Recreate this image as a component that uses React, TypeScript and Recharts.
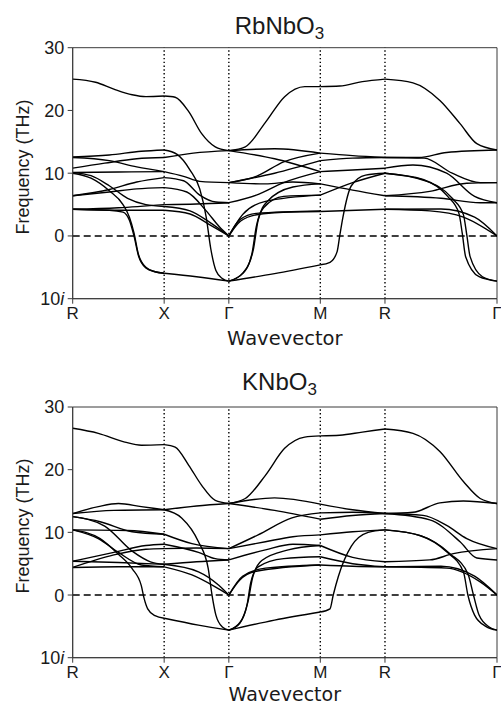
import React from 'react';
import { LineChart, Line, XAxis, YAxis, ReferenceLine, ReferenceArea } from 'recharts';

// k-path (cumulative distance) and labels
const KDIST = [0, 0.7071, 1.2071, 1.9142, 2.4142, 3.2802];
const KLABELS = ['R', 'X', 'Γ', 'M', 'R', 'Γ'];
const FREQ_TICKS = [-10, 0, 10, 20, 30];

// RbNbO3 bands, per segment: curves of [fraction along segment, THz]
const rbRX = [
  [[0, 25.0], [0.25, 24.5], [0.45, 23.4], [0.65, 22.5], [0.8, 22.2], [1, 22.3]],
  [[0, 12.6], [0.4, 12.9], [0.75, 13.5], [1, 13.7]],
  [[0, 12.5], [0.4, 12.0], [0.7, 11.0], [1, 10.25]],
  [[0, 10.8], [0.35, 11.6], [0.7, 12.3], [1, 12.5]],
  [[0, 10.1], [0.5, 10.2], [1, 10.25]],
  [[0, 10.1], [0.2, 9.6], [0.4, 8.0], [0.6, 6.0], [0.8, 5.0], [1, 4.7]],
  [[0, 10.0], [0.2, 9.2], [0.4, 7.2], [0.55, 5.0], [0.62, 3.0], [0.67, 0.5], [0.72, -3], [0.8, -5], [0.9, -5.7], [1, -5.95]],
  [[0, 4.25], [0.4, 4.1], [0.55, 3.8], [0.62, 2.5], [0.67, 0], [0.72, -3.2], [0.8, -5.1], [0.9, -5.7], [1, -5.95]],
  [[0, 6.4], [0.4, 7.4], [0.7, 8.6], [1, 9.3]],
  [[0, 6.4], [0.4, 7.0], [0.7, 7.5], [1, 7.7]],
  [[0, 4.25], [0.5, 4.1], [1, 4.1]],
  [[0, 4.25], [0.5, 4.5], [1, 5.0]],
];
const rbXG = [
  [[0, 22.3], [0.17, 22.1], [0.38, 19.8], [0.58, 16.3], [0.79, 14.2], [1, 13.6]],
  [[0, 13.7], [0.2, 13.0], [0.4, 10.5], [0.55, 7.5], [0.65, 3], [0.72, -2], [0.8, -5.5], [0.9, -6.8], [1, -7.2]],
  [[0, 12.5], [0.45, 13.2], [1, 13.6]],
  [[0, 10.25], [0.3, 9.5], [0.55, 8.7], [1, 8.5]],
  [[0, 9.3], [0.3, 8.8], [0.55, 6.5], [0.8, 5.4], [1, 5.3]],
  [[0, 7.7], [0.35, 7.0], [0.65, 4.0], [0.85, 1.5], [1, 0]],
  [[0, 5.0], [0.5, 5.1], [1, 5.3]],
  [[0, 4.7], [0.4, 4.0], [0.7, 2.2], [1, 0]],
  [[0, 4.1], [0.4, 3.5], [0.7, 1.8], [1, 0]],
  [[0, -5.95], [0.5, -6.5], [1, -7.2]],
];
const rbGM = [
  [[0, 13.6], [0.18, 14.2], [0.4, 18.1], [0.61, 22.2], [0.83, 23.8], [1, 23.8]],
  [[0, 13.6], [0.5, 13.9], [1, 13.2]],
  [[0, 13.6], [0.5, 12.3], [1, 10.25]],
  [[0, 8.5], [0.3, 9.5], [0.6, 11.8], [1, 13.2]],
  [[0, 8.5], [0.5, 10.0], [1, 12.0]],
  [[0, 8.5], [0.4, 8.3], [0.7, 8.6], [1, 8.3]],
  [[0, 5.3], [0.3, 6.5], [0.6, 8.5], [1, 10.25]],
  [[0, 0], [0.1, 2.0], [0.25, 3.2], [0.5, 3.7], [1, 3.9]],
  [[0, 0], [0.12, 2.6], [0.3, 3.6], [1, 4.0]],
  [[0, 0], [0.15, 3.4], [0.4, 5.5], [1, 6.5]],
  [[0, -7.2], [0.15, -6.0], [0.25, -3.0], [0.3, 1.5], [0.38, 4.5], [0.6, 6.3], [1, 6.5]],
  [[0, -7.2], [0.16, -5.8], [0.27, -2.0], [0.32, 2.5], [0.42, 5.5], [0.7, 7.8], [1, 8.3]],
  [[0, -7.2], [0.5, -6.0], [1, -4.6]],
];
const rbMR = [
  [[0, 23.8], [0.3, 23.9], [0.65, 24.6], [1, 25.0]],
  [[0, 13.2], [0.5, 12.8], [1, 12.5]],
  [[0, 12.0], [0.5, 12.4], [1, 12.5]],
  [[0, 10.25], [0.5, 10.5], [1, 10.8]],
  [[0, 8.3], [0.5, 7.3], [1, 6.4]],
  [[0, 6.5], [0.5, 8.5], [1, 10.0]],
  [[0, 3.9], [1, 4.25]],
  [[0, -4.6], [0.15, -4.2], [0.26, -2.5], [0.3, 0], [0.35, 3.0], [0.48, 8.0], [0.7, 9.7], [1, 10.0]],
];
const rbRG = [
  [[0, 25.0], [0.25, 24.4], [0.49, 21.6], [0.67, 17.9], [0.82, 14.7], [1, 13.7]],
  [[0, 12.5], [0.3, 12.5], [0.55, 13.3], [1, 13.7]],
  [[0, 12.5], [0.35, 12.4], [0.6, 10.0], [0.85, 8.5], [1, 8.5]],
  [[0, 10.8], [0.25, 11.3], [0.55, 10.0], [0.8, 6.3], [1, 5.3]],
  [[0, 10.0], [0.34, 9.0], [0.56, 6.3], [0.66, 3.6], [0.69, 0.4], [0.72, -3.3], [0.84, -6.5], [1, -7.2]],
  [[0, 10.0], [0.36, 8.8], [0.6, 6.0], [0.7, 3.4], [0.73, 0.2], [0.76, -3.3], [0.87, -6.5], [1, -7.2]],
  [[0, 6.4], [0.4, 7.1], [0.73, 8.4], [1, 8.5]],
  [[0, 6.4], [0.5, 6.0], [0.85, 5.3], [1, 5.3]],
  [[0, 4.25], [0.4, 4.0], [0.7, 3.0], [1, 0]],
  [[0, 4.25], [0.5, 4.3], [0.8, 3.0], [1, 0]],
];

// KNbO3 bands
const kRX = [
  [[0, 26.6], [0.28, 25.8], [0.57, 24.4], [0.75, 23.9], [1, 24.0]],
  [[0, 13.0], [0.28, 14.1], [0.5, 14.6], [0.75, 14.1], [1, 13.6]],
  [[0, 13.0], [0.45, 13.5], [1, 13.6]],
  [[0, 12.5], [0.3, 11.7], [0.65, 10.1], [1, 9.7]],
  [[0, 10.4], [0.6, 10.3], [1, 9.7]],
  [[0, 12.5], [0.35, 11.0], [0.65, 7.0], [0.85, 5.3], [1, 4.9]],
  [[0, 10.4], [0.28, 9.0], [0.5, 6.8], [0.75, 4.8], [1, 4.5]],
  [[0, 10.4], [0.3, 9.0], [0.5, 6.5], [0.65, 4.2], [0.75, 1.5], [0.78, -0.5], [0.82, -2.2], [0.9, -3.3], [1, -3.7]],
  [[0, 5.4], [0.45, 6.8], [0.8, 7.9], [1, 8.1]],
  [[0, 4.4], [0.45, 6.4], [0.8, 7.3], [1, 7.4]],
  [[0, 5.4], [0.5, 5.2], [1, 4.9]],
  [[0, 4.4], [0.5, 4.5], [1, 4.5]],
];
const kXG = [
  [[0, 24.0], [0.17, 23.6], [0.38, 20.7], [0.58, 17.5], [0.79, 15.1], [1, 14.6]],
  [[0, 13.6], [0.5, 14.2], [1, 14.6]],
  [[0, 13.6], [0.27, 12.3], [0.53, 8.5], [0.68, 4.3], [0.74, 0], [0.8, -3.2], [0.9, -5.1], [1, -5.6]],
  [[0, 9.7], [0.43, 8.2], [1, 7.4]],
  [[0, 8.1], [0.53, 6.8], [0.79, 5.8], [1, 5.6]],
  [[0, 7.4], [0.5, 7.5], [1, 7.4]],
  [[0, 4.9], [0.5, 5.3], [1, 5.6]],
  [[0, 4.9], [0.53, 3.7], [0.84, 1.6], [1, 0]],
  [[0, 4.5], [0.43, 3.2], [0.79, 1.3], [1, 0]],
  [[0, -3.7], [0.53, -4.8], [1, -5.6]],
];
const kGM = [
  [[0, 14.6], [0.18, 15.4], [0.4, 19.1], [0.61, 23.4], [0.83, 25.2], [1, 25.4]],
  [[0, 14.6], [0.5, 15.5], [1, 14.5]],
  [[0, 14.6], [0.5, 13.5], [1, 12.1]],
  [[0, 7.4], [0.32, 9.6], [0.69, 12.3], [1, 13.1]],
  [[0, 7.4], [0.4, 8.5], [0.7, 9.3], [1, 9.6]],
  [[0, 5.6], [0.4, 7.2], [0.7, 8.1], [1, 7.9]],
  [[0, 0], [0.12, 2.4], [0.3, 3.8], [1, 4.8]],
  [[0, 0], [0.15, 3.0], [0.4, 4.3], [1, 4.8]],
  [[0, -5.6], [0.12, -4.5], [0.2, -1.5], [0.24, 2.0], [0.32, 4.5], [0.6, 5.8], [1, 6.1]],
  [[0, -5.6], [0.13, -4.2], [0.21, -1.0], [0.26, 2.8], [0.36, 5.5], [0.65, 7.2], [1, 7.9]],
  [[0, -5.6], [0.5, -4.0], [1, -2.7]],
];
const kMR = [
  [[0, 25.4], [0.3, 25.5], [0.65, 26.0], [1, 26.5]],
  [[0, 14.5], [0.5, 13.6], [1, 13.0]],
  [[0, 12.1], [0.5, 12.7], [1, 13.0]],
  [[0, 13.1], [0.5, 13.2], [1, 13.0]],
  [[0, 9.6], [0.5, 10.1], [1, 10.4]],
  [[0, 7.9], [0.5, 6.0], [1, 5.3]],
  [[0, 4.8], [0.5, 4.6], [1, 4.5]],
  [[0, 6.1], [0.5, 5.0], [1, 4.5]],
  [[0, -2.7], [0.15, -2.2], [0.2, 0], [0.28, 3.0], [0.48, 7.8], [0.74, 10.0], [1, 10.4]],
];
const kRG = [
  [[0, 26.5], [0.25, 25.8], [0.49, 22.9], [0.7, 18.1], [0.85, 15.4], [1, 14.6]],
  [[0, 13.0], [0.25, 13.2], [0.49, 14.7], [0.7, 15.0], [1, 14.6]],
  [[0, 13.0], [0.34, 12.7], [0.55, 11.1], [0.73, 9.0], [1, 7.4]],
  [[0, 13.0], [0.4, 12.0], [0.67, 8.5], [0.82, 5.9], [1, 5.6]],
  [[0, 10.4], [0.31, 9.5], [0.55, 6.9], [0.7, 3.7], [0.74, 0], [0.8, -3.2], [0.9, -5.0], [1, -5.6]],
  [[0, 10.4], [0.33, 9.4], [0.58, 6.6], [0.74, 3.4], [0.79, 0], [0.84, -3.2], [0.93, -5.1], [1, -5.6]],
  [[0, 5.3], [0.4, 5.6], [0.61, 6.6], [1, 7.4]],
  [[0, 4.5], [0.55, 4.3], [0.85, 2.1], [1, 0]],
  [[0, 4.5], [0.5, 4.6], [0.8, 3.0], [1, 0]],
];

const RB_SEGMENTS = [rbRX, rbXG, rbGM, rbMR, rbRG];
const K_SEGMENTS = [kRX, kXG, kGM, kMR, kRG];

const AXIS_COLOR = '#3a3a3a';
const TEXT_COLOR = '#1a1a1a';
const TICK_FONT = '"Liberation Sans", Arial, sans-serif';

function buildCurves(segments: number[][][][]) {
  const out: { q: number; v: number }[][] = [];
  segments.forEach((seg, si) => {
    const q0 = KDIST[si];
    const len = KDIST[si + 1] - KDIST[si];
    seg.forEach((curve) => {
      out.push(curve.map(([f, v]) => ({ q: q0 + f * len, v })));
    });
  });
  return out;
}

const YTick = (props: any) => {
  const { x, y, payload } = props;
  const val = payload.value;
  return (
    <text x={x} y={y} dy="0.36em" textAnchor="end" fontFamily={TICK_FONT} fontSize={18} fill={TEXT_COLOR}>
      {val === -10 ? (
        <>
          <tspan>10</tspan>
          <tspan fontStyle="italic">i</tspan>
        </>
      ) : (
        String(val)
      )}
    </text>
  );
};

const XTick = (props: any) => {
  const { x, y, payload } = props;
  const idx = KDIST.findIndex((d) => Math.abs(d - payload.value) < 1e-6);
  return (
    <text x={x} y={y} dy="0.72em" textAnchor="middle" fontFamily={TICK_FONT} fontSize={17} fill={TEXT_COLOR}>
      {idx >= 0 ? KLABELS[idx] : ''}
    </text>
  );
};

function Panel({ segments, height, top, xAxisHeight }: { segments: number[][][][]; height: number; top: number; xAxisHeight: number }) {
  const curves = buildCurves(segments);
  return (
    <LineChart width={501} height={height} margin={{ top, right: 4, bottom: 0, left: 0 }}>
      <XAxis
        dataKey="q"
        type="number"
        domain={[0, KDIST[KDIST.length - 1]]}
        ticks={KDIST}
        interval={0}
        allowDataOverflow
        height={xAxisHeight}
        tickSize={5}
        tickMargin={3.5}
        stroke={AXIS_COLOR}
        tickLine={{ stroke: AXIS_COLOR }}
        tick={<XTick />}
      />
      <YAxis
        type="number"
        domain={[-10, 30]}
        ticks={FREQ_TICKS}
        interval={0}
        allowDataOverflow
        width={72.7}
        tickSize={5}
        tickMargin={3.5}
        stroke={AXIS_COLOR}
        tickLine={{ stroke: AXIS_COLOR }}
        tick={<YTick />}
      />
      {KDIST.slice(1, -1).map((d, i) => (
        <ReferenceLine key={'v' + i} x={d} stroke="#000" strokeWidth={1.4} strokeDasharray="1.4 2.4" />
      ))}
      <ReferenceLine y={0} stroke="#000" strokeWidth={1.5} strokeDasharray="7 4" />
      {curves.map((c, i) => (
        <Line
          key={i}
          data={c}
          dataKey="v"
          type="monotone"
          dot={false}
          activeDot={false}
          stroke="#000"
          strokeWidth={1.4}
          isAnimationActive={false}
        />
      ))}
      <ReferenceArea x1={0} x2={KDIST[KDIST.length - 1]} y1={-10} y2={30} fill="none" stroke={AXIS_COLOR} strokeWidth={1} />
    </LineChart>
  );
}

export default function App() {
  return (
    <div style={{ position: 'absolute', left: 0, top: 0, width: 501, height: 705, background: '#fff', overflow: 'hidden' }}>
      <div style={{ position: 'absolute', left: 0, top: 0 }}>
        <Panel segments={RB_SEGMENTS} height={352} top={47.7} xAxisHeight={352 - 298.7} />
      </div>
      <div style={{ position: 'absolute', left: 0, top: 352 }}>
        <Panel segments={K_SEGMENTS} height={353} top={55} xAxisHeight={705 - 657.7} />
      </div>
      <svg width={501} height={705} style={{ position: 'absolute', left: 0, top: 0, pointerEvents: 'none' }}>
        <text x={279.5} y={33.5} textAnchor="middle" fontFamily={TICK_FONT} fontSize={24} fill={TEXT_COLOR}>
          RbNbO<tspan fontSize={17} dy={5}>3</tspan>
        </text>
        <text x={279.5} y={390} textAnchor="middle" fontFamily={TICK_FONT} fontSize={24} fill={TEXT_COLOR}>
          KNbO<tspan fontSize={17} dy={5}>3</tspan>
        </text>
        <text x={284.8} y={344.5} textAnchor="middle" fontFamily='"DejaVu Sans", sans-serif' fontSize={19.5} fill={TEXT_COLOR}>
          Wavevector
        </text>
        <text x={284.8} y={700.5} textAnchor="middle" fontFamily='"DejaVu Sans", sans-serif' fontSize={19} fill={TEXT_COLOR}>
          Wavevector
        </text>
        <text transform="translate(29,167) rotate(-90)" textAnchor="middle" fontFamily={TICK_FONT} fontSize={18} fill={TEXT_COLOR}>
          Frequency (THz)
        </text>
        <text transform="translate(29,526) rotate(-90)" textAnchor="middle" fontFamily={TICK_FONT} fontSize={18} fill={TEXT_COLOR}>
          Frequency (THz)
        </text>
      </svg>
    </div>
  );
}
